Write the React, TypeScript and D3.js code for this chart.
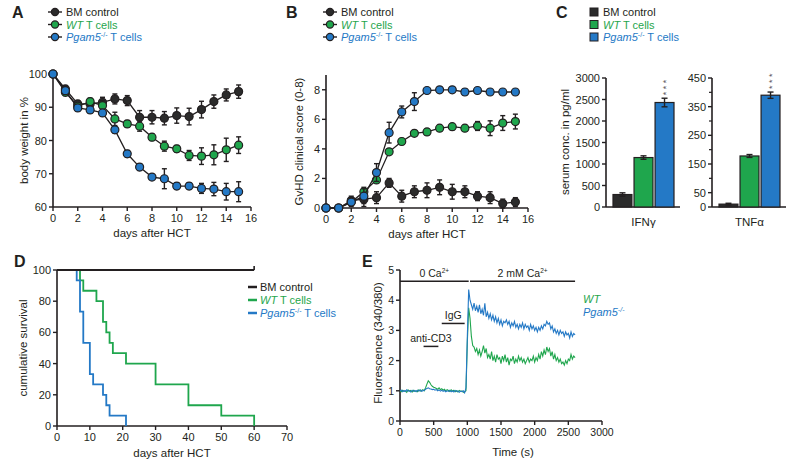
import * as d3 from "d3";
import React from "react";

const FONT = "'Liberation Sans', Arial, Helvetica, sans-serif";
const BLACK = "#231f20";
const DARK = "#2b2b2b";
const GREEN = "#1fa64d";
const BLUE = "#2479c6";

// ---- A / B: time courses after HCT
const days = [0, 1, 2, 3, 4, 5, 6, 7, 8, 9, 10, 11, 12, 13, 14, 15];
const dayTicks = [0, 2, 4, 6, 8, 10, 12, 14, 16];

const weightBM = [100, 95.5, 91, 91, 91.5, 92.5, 92, 87, 87, 86.7, 87.5, 87.2, 89.3, 91.7, 93.7, 94.7];
const weightBMErr = [0, 1, 1, 1, 1.5, 1.5, 1.5, 2, 2, 2, 2.3, 2.5, 2.5, 2, 1.8, 2];
const weightWT = [100, 94.5, 90.3, 91.7, 90.5, 86.5, 85, 84.3, 81, 78.3, 77.5, 75.5, 75.3, 75.7, 77.2, 78.6];
const weightWTErr = [0, 1, 1, 1, 1.5, 2, 1, 1.5, 1, 1.5, 1, 1.5, 2.5, 3, 3.5, 2.5];
const weightKO = [100, 95, 89.8, 89.2, 88.3, 83.2, 76, 72, 69, 68.5, 66.3, 66.3, 65.6, 65.4, 64.6, 64.6];
const weightKOErr = [0, 1, 1, 1, 1, 1, 1, 1, 0.5, 3, 1, 1, 1.5, 2, 2.5, 3];
const weightTicks = [60, 70, 80, 90, 100];

const scoreBM = [0, 0, 0.5, 0.6, 0.7, 1.7, 0.8, 1.1, 1.2, 1.4, 1.1, 1.1, 0.8, 0.7, 0.3, 0.4];
const scoreBMErr = [0, 0.1, 0.3, 0.5, 0.4, 0.3, 0.4, 0.4, 0.5, 0.5, 0.5, 0.4, 0.3, 0.4, 0.3, 0.3];
const scoreWT = [0, 0, 0.4, 1.1, 1.9, 3.8, 4.5, 5.05, 5.15, 5.4, 5.5, 5.4, 5.55, 5.4, 5.75, 5.85];
const scoreWTErr = [0, 0.1, 0.2, 0.3, 0.1, 0.1, 0.2, 0.1, 0.2, 0.2, 0.2, 0.2, 0.3, 0.5, 0.5, 0.5];
const scoreKO = [0, 0, 0.4, 0.8, 2.4, 5.1, 6.5, 7.2, 7.95, 8.0, 8.0, 7.85, 7.95, 7.85, 7.85, 7.85];
const scoreKOErr = [0, 0.1, 0.3, 0.5, 0.6, 0.7, 0.4, 0.6, 0.1, 0.1, 0.1, 0.2, 0.1, 0.1, 0.1, 0.1];
const scoreTicks = [0, 2, 4, 6, 8];

// ---- C: serum cytokines
const ifnMeans = [290, 1150, 2430];
const ifnErr = [40, 40, 100];
const ifnTicks = [0, 500, 1000, 1500, 2000, 2500, 3000];
const tnfMeans = [10, 178, 390];
const tnfErr = [3, 5, 11];
const tnfTicks = [0, 50, 150, 250, 350, 450];
const tnfMinorTicks = [100, 200, 300, 400];

// ---- D: survival (day, % alive)
const survivalBM = [[0, 100], [60, 100]];
const survivalWT = [[0, 100], [7, 93.3], [8, 86.7], [12, 80], [14, 66.7], [15, 60], [16, 53.3], [17, 46.7], [21, 40], [30, 26.7], [40, 13.3], [50, 6.7], [60, 0]];
const survivalKO = [[0, 100], [6, 93.3], [7, 73.3], [8, 53.3], [10, 33.3], [11, 26.7], [14, 20], [15, 13.3], [16, 6.7], [21, 0]];
const survivalYTicks = [0, 20, 40, 60, 80, 100];
const survivalXTicks = [0, 10, 20, 30, 40, 50, 60, 70];

// ---- E: Ca2+ flux, one reading every 20 s from 0 to 2600 s
const sampleStep = 20;
const fluoWT = [
  1.0, 0.97, 1.02, 0.98, 1.0, 0.95, 1.03, 0.99, 1.01, 0.96, 1.02, 0.98, 1.0, 0.97, 1.03, 0.99, 1.01, 1.04, 1.0, 1.1,
  1.22, 1.33, 1.28, 1.2, 1.15, 1.12, 1.1, 1.08, 1.05, 1.1, 1.04, 1.07, 1.02, 1.05, 1.0, 1.04, 1.01, 0.98, 1.03, 0.99,
  1.02, 0.97, 1.0, 0.96, 1.01, 0.98, 1.0, 0.95, 0.97, 1.0, 2.6, 3.75, 3.4, 2.8, 2.5, 2.45, 2.3, 2.4, 2.2, 2.35,
  2.15, 2.3, 2.5, 2.25, 2.4, 2.1, 2.2, 2.05, 2.3, 2.0, 2.15, 1.95, 2.2, 2.05, 2.1, 1.9, 2.15, 2.0, 2.2, 1.95,
  2.1, 1.85, 2.05, 2.0, 2.15, 1.9, 2.05, 1.95, 2.15, 2.0, 2.1, 1.95, 2.05, 1.9, 2.0, 2.1, 1.95, 2.05, 2.0, 2.15,
  1.95, 2.1, 2.0, 2.2, 2.05, 2.3, 2.15, 2.35, 2.2, 2.45, 2.3, 2.4, 2.15, 2.3, 2.05, 2.2, 2.0, 2.1, 1.95, 2.05,
  1.9, 1.95, 1.85, 2.0, 1.9, 2.05, 2.0, 2.2, 2.05, 2.15, 2.1,
];
const fluoKO = [
  1.0, 1.02, 0.97, 1.01, 0.98, 1.03, 0.99, 1.0, 0.96, 1.02, 0.98, 1.01, 0.97, 1.02, 0.99, 1.03, 0.98, 1.0, 1.02, 1.05,
  1.08, 1.1, 1.07, 1.06, 1.04, 1.05, 1.02, 1.04, 1.0, 1.03, 0.99, 1.02, 0.98, 1.01, 0.97, 1.0, 0.98, 1.02, 0.97, 1.0,
  0.96, 1.01, 0.98, 1.0, 0.95, 0.99, 0.97, 1.0, 0.93, 1.1, 2.8, 4.35, 4.0, 3.85, 3.7, 3.9, 3.65, 3.8, 3.6, 3.85,
  3.55, 3.7, 3.5, 3.9, 3.45, 3.6, 3.4, 3.55, 3.35, 3.5, 3.3, 3.45, 3.25, 3.4, 3.2, 3.35, 3.15, 3.3, 3.25, 3.35,
  3.2, 3.3, 3.1, 3.25, 3.15, 3.3, 3.1, 3.2, 3.05, 3.2, 3.1, 3.25, 3.05, 3.2, 3.1, 3.15, 3.0, 3.2, 3.05, 3.15,
  3.0, 3.1, 2.95, 3.1, 3.0, 3.15, 3.05, 3.2, 3.15, 3.3, 3.2, 3.25, 3.05, 3.15, 2.95, 3.05, 2.9, 3.0, 2.85, 3.0,
  2.9, 2.95, 2.8, 2.95, 2.85, 2.9, 2.75, 2.95, 2.8, 2.9, 2.85,
];
const fluoYTicks = [0, 1, 2, 3, 4, 5];
const timeTicks = [0, 500, 1000, 1500, 2000, 2500, 3000];
const bathPhases = [
  { label: "0 Ca", from: 0, to: 1020 },
  { label: "2 mM Ca", from: 1040, to: 2600 },
];
const stimuli = [
  { label: "anti-CD3", from: 350, to: 570 },
  { label: "IgG", from: 620, to: 960 },
];

const groupColors = [DARK, GREEN, BLUE];

function GroupLabel({ group, x, y, anchor = "start" }: any) {
  if (group === 0)
    return <text x={x} y={y} fill={BLACK} textAnchor={anchor}>BM control</text>;
  if (group === 1)
    return (
      <text x={x} y={y} fill={GREEN} textAnchor={anchor}>
        <tspan fontStyle="italic">WT</tspan> T cells
      </text>
    );
  return (
    <text x={x} y={y} fill={BLUE} textAnchor={anchor}>
      <tspan fontStyle="italic">Pgam5</tspan>
      <tspan fontSize="7" dy="-4">-/-</tspan>
      <tspan dy="4"> T cells</tspan>
    </text>
  );
}

function LeftAxis({ scale, ticks, x, labels = true, fontSize = 11 }: any) {
  const [d0, d1] = scale.domain();
  return (
    <g>
      <line x1={x} x2={x} y1={scale(d0)} y2={scale(d1)} stroke={BLACK} strokeWidth={1.6} />
      {ticks.map((t: number) => (
        <g key={t}>
          <line x1={x - 4} x2={x} y1={scale(t)} y2={scale(t)} stroke={BLACK} strokeWidth={1.4} />
          {labels && (
            <text x={x - 6} y={scale(t) + 4} textAnchor="end" fontSize={fontSize} fill={BLACK}>
              {t}
            </text>
          )}
        </g>
      ))}
    </g>
  );
}

function BottomAxis({ scale, ticks, y, fontSize = 11 }: any) {
  const [d0, d1] = scale.domain();
  return (
    <g>
      <line x1={scale(d0)} x2={scale(d1)} y1={y} y2={y} stroke={BLACK} strokeWidth={1.6} />
      {ticks.map((t: number) => (
        <g key={t}>
          <line x1={scale(t)} x2={scale(t)} y1={y} y2={y + 4} stroke={BLACK} strokeWidth={1.4} />
          <text x={scale(t)} y={y + 15} textAnchor="middle" fontSize={fontSize} fill={BLACK}>
            {t}
          </text>
        </g>
      ))}
    </g>
  );
}

function TimeCourse({ letter, letterX, xRange, yRange, yDomain, yTicks, series, yTitle, titleX, legendX }: any) {
  const x = d3.scaleLinear().domain([0, 16]).range(xRange);
  const y = d3.scaleLinear().domain(yDomain).range(yRange);
  const line = d3
    .line<number>()
    .x((_, i) => x(days[i]))
    .y((v) => y(v));
  const midX = (xRange[0] + xRange[1]) / 2;
  const midY = (yRange[0] + yRange[1]) / 2;
  return (
    <g>
      <text x={letterX} y={18} fontSize={16} fontWeight="bold" fill={BLACK}>{letter}</text>
      {[0, 1, 2].map((g) => (
        <g key={g}>
          <line x1={legendX} x2={legendX + 14} y1={12 + g * 12.5} y2={12 + g * 12.5} stroke={BLACK} strokeWidth={1.4} />
          <circle cx={legendX + 7} cy={12 + g * 12.5} r={3.6} fill={groupColors[g]} stroke={BLACK} strokeWidth={1.2} />
          <GroupLabel group={g} x={legendX + 18} y={16 + g * 12.5} />
        </g>
      ))}
      <LeftAxis scale={y} ticks={yTicks} x={xRange[0]} />
      <BottomAxis scale={x} ticks={dayTicks} y={yRange[0]} />
      <text x={midX} y={yRange[0] + 30} textAnchor="middle" fontSize={11.5} fill={BLACK}>days after HCT</text>
      <text transform={`translate(${titleX},${midY}) rotate(-90)`} textAnchor="middle" fontSize={11.5} fill={BLACK}>{yTitle}</text>
      {series.map((s: any, si: number) => (
        <g key={si}>
          <path d={line(s.values) || ""} fill="none" stroke={BLACK} strokeWidth={1.3} />
          {s.values.map((v: number, i: number) =>
            s.errors[i] > 0 ? (
              <g key={i} stroke={BLACK} strokeWidth={1.4}>
                <line x1={x(days[i])} x2={x(days[i])} y1={y(v - s.errors[i])} y2={y(v + s.errors[i])} />
                <line x1={x(days[i]) - 2.5} x2={x(days[i]) + 2.5} y1={y(v - s.errors[i])} y2={y(v - s.errors[i])} />
                <line x1={x(days[i]) - 2.5} x2={x(days[i]) + 2.5} y1={y(v + s.errors[i])} y2={y(v + s.errors[i])} />
              </g>
            ) : null
          )}
          {s.values.map((v: number, i: number) => (
            <circle key={i} cx={x(days[i])} cy={y(v)} r={4} fill={groupColors[si]} stroke={BLACK} strokeWidth={1.2} />
          ))}
        </g>
      ))}
    </g>
  );
}

function CytokineBars({ axisX, barRange, yMax, ticks, minorTicks = [], means, errs, label }: any) {
  const y = d3.scaleLinear().domain([0, yMax]).range([207, 78]);
  const band = d3.scaleBand<number>().domain([0, 1, 2]).range(barRange).paddingInner(0.1);
  const bw = band.bandwidth();
  return (
    <g>
      <LeftAxis scale={y} ticks={ticks} x={axisX} />
      {minorTicks.map((t: number) => (
        <line key={t} x1={axisX - 3} x2={axisX} y1={y(t)} y2={y(t)} stroke={BLACK} strokeWidth={1.2} />
      ))}
      <line x1={axisX} x2={barRange[1] + 6} y1={y(0)} y2={y(0)} stroke={BLACK} strokeWidth={1.6} />
      {means.map((m: number, i: number) => {
        const cx = (band(i) as number) + bw / 2;
        const top = y(m + errs[i]);
        return (
          <g key={i}>
            <rect x={band(i)} y={y(m)} width={bw} height={y(0) - y(m)} fill={groupColors[i]} stroke={BLACK} strokeWidth={1.2} />
            <line x1={cx} x2={cx} y1={y(m - errs[i])} y2={top} stroke={BLACK} strokeWidth={1.4} />
            <line x1={cx - 3} x2={cx + 3} y1={top} y2={top} stroke={BLACK} strokeWidth={1.4} />
            <line x1={cx - 3} x2={cx + 3} y1={y(m - errs[i])} y2={y(m - errs[i])} stroke={BLACK} strokeWidth={1.4} />
            {i === 2 && (
              // three stacked significance stars, written as one vertical run
              <text transform={`translate(${cx},${top - 3}) rotate(-90)`} y={4.6} fontSize={9} letterSpacing={2.5} fill="#555">
                ***
              </text>
            )}
          </g>
        );
      })}
      <text x={(barRange[0] + barRange[1]) / 2} y={226} textAnchor="middle" fontSize={11.5} fill={BLACK}>{label}</text>
    </g>
  );
}

function Survival() {
  const x = d3.scaleLinear().domain([0, 70]).range([57, 287]);
  const y = d3.scaleLinear().domain([0, 100]).range([426, 270]);
  const step = d3
    .line<number[]>()
    .x((d) => x(d[0]))
    .y((d) => y(d[1]))
    .curve(d3.curveStepAfter);
  const curves = [survivalWT, survivalKO, survivalBM];
  const colors = [GREEN, BLUE, BLACK];
  return (
    <g>
      <text x={14} y={267} fontSize={16} fontWeight="bold" fill={BLACK}>D</text>
      <LeftAxis scale={y} ticks={survivalYTicks} x={57} />
      <BottomAxis scale={x} ticks={survivalXTicks} y={426} />
      {curves.map((c, i) => (
        <path key={i} d={step(c) || ""} fill="none" stroke={colors[i]} strokeWidth={1.8} />
      ))}
      <line x1={x(60)} x2={x(60)} y1={y(100) - 4} y2={y(100)} stroke={BLACK} strokeWidth={1.6} />
      <text x={172} y={457} textAnchor="middle" fontSize={11.5} fill={BLACK}>days after HCT</text>
      <text transform="translate(27,348) rotate(-90)" textAnchor="middle" fontSize={11.5} fill={BLACK}>cumulative survival</text>
      {[0, 1, 2].map((g) => (
        <g key={g}>
          <line x1={248} x2={257} y1={287 + g * 13} y2={287 + g * 13} stroke={[BLACK, GREEN, BLUE][g]} strokeWidth={2.5} />
          <GroupLabel group={g} x={260} y={291 + g * 13} />
        </g>
      ))}
    </g>
  );
}

function CalciumFlux() {
  const x = d3.scaleLinear().domain([0, 3000]).range([400, 602]);
  const y = d3.scaleLinear().domain([0, 5]).range([421, 270]);
  const trace = d3
    .line<number>()
    .x((_, i) => x(i * sampleStep))
    .y((v) => y(v));
  const phaseLevel = 4.63;
  const stimLevels = [2.47, 3.23];
  return (
    <g>
      <text x={362} y={267} fontSize={16} fontWeight="bold" fill={BLACK}>E</text>
      <LeftAxis scale={y} ticks={fluoYTicks} x={400} fontSize={10.5} />
      <BottomAxis scale={x} ticks={timeTicks} y={421} fontSize={10.5} />
      <text x={513} y={456} textAnchor="middle" fontSize={11.5} fill={BLACK}>Time (s)</text>
      <text transform="translate(382,343) rotate(-90)" textAnchor="middle" fontSize={11.5} fill={BLACK}>Fluorescence (340/380)</text>
      <path d={trace(fluoWT) || ""} fill="none" stroke={GREEN} strokeWidth={1.1} />
      <path d={trace(fluoKO) || ""} fill="none" stroke={BLUE} strokeWidth={1.1} />
      {bathPhases.map((p) => (
        <g key={p.label}>
          <line x1={x(p.from)} x2={x(p.to)} y1={y(phaseLevel)} y2={y(phaseLevel)} stroke={BLACK} strokeWidth={1.5} />
          <text x={(x(p.from) + x(p.to)) / 2} y={y(phaseLevel) - 4} textAnchor="middle" fontSize={10.5} fill={BLACK}>
            {p.label}
            <tspan fontSize="6.5" dy="-4">2+</tspan>
          </text>
        </g>
      ))}
      {stimuli.map((s, i) => (
        <g key={s.label}>
          <line x1={x(s.from)} x2={x(s.to)} y1={y(stimLevels[i])} y2={y(stimLevels[i])} stroke={BLACK} strokeWidth={1.5} />
          <text x={(x(s.from) + x(s.to)) / 2} y={y(stimLevels[i]) - 4} textAnchor="middle" fontSize={10.5} fill={BLACK}>
            {s.label}
          </text>
        </g>
      ))}
      <text x={583} y={303} fontSize={11} fontStyle="italic" fill={GREEN}>WT</text>
      <text x={583} y={316} fontSize={11} fontStyle="italic" fill={BLUE}>
        Pgam5<tspan fontSize="7" dy="-4">-/-</tspan>
      </text>
    </g>
  );
}

export default function App() {
  const weightSeries = [
    { values: weightBM, errors: weightBMErr },
    { values: weightWT, errors: weightWTErr },
    { values: weightKO, errors: weightKOErr },
  ];
  const scoreSeries = [
    { values: scoreBM, errors: scoreBMErr },
    { values: scoreWT, errors: scoreWTErr },
    { values: scoreKO, errors: scoreKOErr },
  ];
  return (
    <div style={{ position: "absolute", left: 0, top: 0 }}>
      <svg width={800} height={466} fontFamily={FONT} fontSize={11} style={{ display: "block", background: "#fff" }}>
        <TimeCourse
          letter="A" letterX={12} xRange={[53, 251]} yRange={[207, 74]} yDomain={[60, 100]}
          yTicks={weightTicks} series={weightSeries} yTitle="body weight in %" titleX={28} legendX={48}
        />
        <TimeCourse
          letter="B" letterX={286} xRange={[326, 528]} yRange={[208, 75]} yDomain={[0, 9]}
          yTicks={scoreTicks} series={scoreSeries} yTitle="GvHD clinical score (0-8)" titleX={303} legendX={323}
        />
        <text x={556} y={18} fontSize={16} fontWeight="bold" fill={BLACK}>C</text>
        {[0, 1, 2].map((g) => (
          <g key={g}>
            <rect x={590} y={8 + g * 12.5} width={8} height={8} fill={groupColors[g]} stroke={BLACK} strokeWidth={1} />
            <GroupLabel group={g} x={603} y={16 + g * 12.5} />
          </g>
        ))}
        <text transform="translate(569,142) rotate(-90)" textAnchor="middle" fontSize={11.5} fill={BLACK}>serum conc. in pg/ml</text>
        <CytokineBars axisX={606} barRange={[613, 674]} yMax={3000} ticks={ifnTicks} means={ifnMeans} errs={ifnErr} label="IFNγ" />
        <CytokineBars axisX={712} barRange={[719, 780]} yMax={450} ticks={tnfTicks} minorTicks={tnfMinorTicks} means={tnfMeans} errs={tnfErr} label="TNFα" />
        <Survival />
        <CalciumFlux />
      </svg>
    </div>
  );
}
